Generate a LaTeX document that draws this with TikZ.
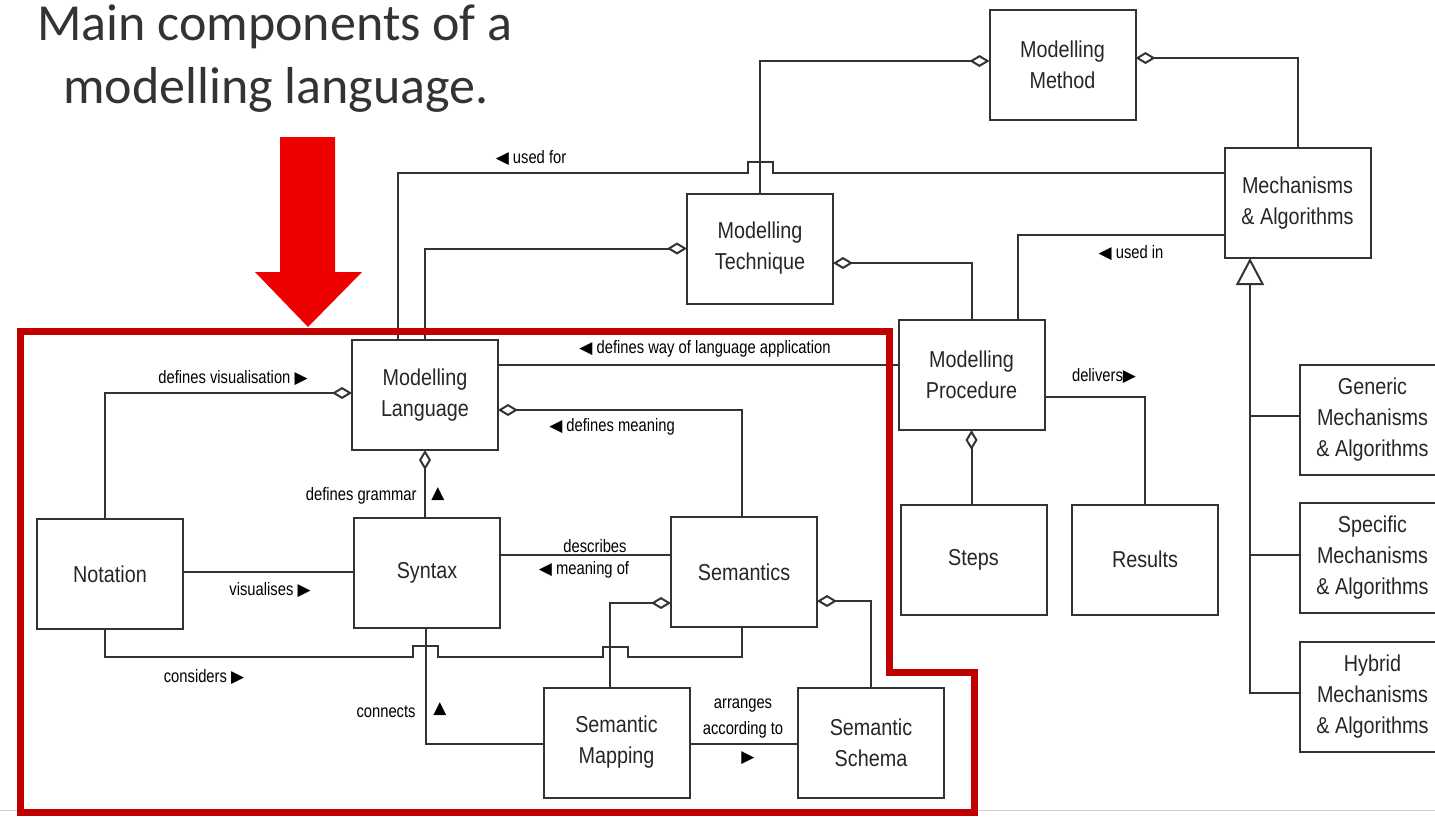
\documentclass[tikz,border=0pt]{standalone}
\usepackage{fontspec}
\usetikzlibrary{arrows.meta}
\newfontfamily\diagfont{Liberation Sans}[FakeStretch=0.86]
\newfontfamily\labelfont{Liberation Sans}[FakeStretch=0.82]
\newfontfamily\titlefont{Carlito}
\newfontfamily\symfont{DejaVu Sans}
\newcommand\tril{{\symfont\fontsize{8.5}{8.5}\selectfont ◀}}
\newcommand\trir{{\symfont\fontsize{8.5}{8.5}\selectfont ▶}}
\newcommand\triu{{\symfont\fontsize{8.5}{8.5}\selectfont ▲}}
\definecolor{ink}{HTML}{333333}
\definecolor{framered}{HTML}{C00000}
\definecolor{arrowred}{HTML}{EE0000}

\begin{document}
\begin{tikzpicture}[x=0.5pt,y=-0.5pt,
  box/.style={draw=ink, line width=1pt, minimum width=73pt, minimum height=55pt,
    inner sep=0pt, outer sep=0pt, align=center,
    font=\diagfont\fontsize{11.5}{15.5}\selectfont, text=black!85},
  conn/.style={draw=ink, line width=1pt},
  agg/.style={conn, arrows={Diamond[open,length=10pt,width=6pt]-}},
  gen/.style={conn, arrows={Triangle[open,length=13.5pt,width=14pt]-}},
  lbl/.style={font=\labelfont\fontsize{9}{11}\selectfont, inner sep=0pt, text=black}
]
\useasboundingbox (0,0) rectangle (1435,816);
\clip (0,0) rectangle (1435,816);

% thin slide edge
\draw[black!18, line width=0.5pt] (0,810) -- (1435,810);

% heading and pointer
\node[font=\titlefont\fontsize{26}{30}\selectfont, anchor=base, text=black!80] (title1) at (275,40) {Main components of a};
\node[font=\titlefont\fontsize{26}{30}\selectfont, anchor=base, text=black!80] (title2) at (276,103) {modelling language.};
\fill[arrowred] (280,137) -- (335,137) -- (335,272) -- (362,272) -- (308,327) -- (255,272) -- (280,272) -- cycle;

% classes
\node[box] (method)   at (1062.5,65)   {Modelling\\Method};
\node[box] (mech)     at (1297.5,203)  {Mechanisms\\\& Algorithms};
\node[box] (tech)     at (760,248.5)   {Modelling\\Technique};
\node[box] (proc)     at (971.5,375)   {Modelling\\Procedure};
\node[box] (ml)       at (425,395)     {Modelling\\Language};
\node[box] (notation) at (110,574)     {Notation};
\node[box] (syntax)   at (427,573)     {Syntax};
\node[box] (sem)      at (744,572)     {Semantics};
\node[box] (smap)     at (616.5,742.5) {Semantic\\Mapping};
\node[box] (sschema)  at (871,742.5)   {Semantic\\Schema};
\node[box] (steps)    at (973.5,559.5) {Steps};
\node[box] (results)  at (1145,559.5)  {Results};
\node[box] (generic)  at (1372.5,419.5) {Generic\\Mechanisms\\\& Algorithms};
\node[box] (specific) at (1372.5,558)   {Specific\\Mechanisms\\\& Algorithms};
\node[box] (hybrid)   at (1372.5,696.5) {Hybrid\\Mechanisms\\\& Algorithms};

% associations and aggregations
\draw[conn] ([xshift=-13.5pt]ml.north) |- (748,173) -- (748,162) -- (773,162) -- (773,173) -- ([yshift=15pt]mech.west);
\draw[agg] (tech.west) -| (ml.north);
\draw[agg] ([yshift=2pt]method.west) -| (tech.north);
\draw[agg] ([yshift=3.5pt]method.east) -| (mech.north);
\draw[agg] ([yshift=-7.25pt]tech.east) -| (proc.north);
\draw[conn] ([yshift=-16pt]mech.west) -| ([xshift=23.25pt]proc.north);
\draw[conn] ([yshift=15pt]ml.east) -- ([yshift=5pt]proc.west);
\draw[agg] ([yshift=-7.5pt]ml.east) -| ([xshift=-1pt]sem.north);
\draw[agg] ([yshift=1pt]ml.west) -| ([xshift=-2.5pt]notation.north);
\draw[agg] (ml.south) -- (ml.south |- syntax.north);
\draw[conn] ([yshift=1pt]notation.east) -- ([yshift=0.5pt]syntax.west);
\draw[conn] ([yshift=9pt]syntax.east) -- ([yshift=8.5pt]sem.west);
\draw[agg] ([yshift=-15.5pt]sem.west) -| ([xshift=-3.25pt]smap.north);
\draw[conn] ([xshift=-2.5pt]notation.south) |- (413,657) -- (413,646) -- (438,646) -- (438,657)
  -- (603,657) -- (603,647) -- (628,647) -- (628,657) -| ([xshift=-1pt]sem.south);
\draw[agg] ([yshift=-14.5pt]sem.east) -| (sschema.north);
\draw[conn] ([xshift=-0.5pt]syntax.south) |- ([yshift=-0.75pt]smap.west);
\draw[conn] ([yshift=-0.75pt]smap.east) -- ([yshift=-0.75pt]sschema.west);
\draw[conn] ([yshift=-11pt]proc.east) -| (results.north);
\draw[agg] (proc.south) -- (proc.south |- steps.north);

% specialisations
\draw[gen] ([xshift=-23.75pt]mech.south) |- ([yshift=2pt]hybrid.west);
\draw[conn] ([yshift=2pt]generic.west) -- ++(-50,0);
\draw[conn] ([yshift=1.5pt]specific.west) -- ++(-50,0);

% role labels
\node[lbl] (l-usedfor) at (531,158) {\tril\ used for};
\node[lbl] (l-usedin)  at (1131,253) {\tril\ used in};
\node[lbl] (l-way)     at (705,349) {\tril\ defines way of language application};
\node[lbl] (l-meaning) at (612,427) {\tril\ defines meaning};
\node[lbl] (l-vis)     at (233,378) {defines visualisation \trir};
\node[lbl, anchor=east] (l-gram) at (417,496) {defines grammar};
\node[lbl] (l-gramtri) at (438,494) {\triu};
\node[lbl] (l-visu)    at (270,590) {visualises \trir};
\node[lbl] (l-desc)    at (595,546) {describes};
\node[lbl] (l-mof)     at (584,570) {\tril\ meaning of};
\node[lbl] (l-cons)    at (204,677) {considers \trir};
\node[lbl, anchor=east] (l-conn) at (416,712) {connects};
\node[lbl] (l-conntri) at (440,709) {\triu};
\node[lbl] (l-arr1)    at (743,706) {arranges};
\node[lbl] (l-arr2)    at (743,730) {according to};
\node[lbl] (l-arr3)    at (748,758) {\trir};
\node[lbl] (l-deliv)   at (1104,376) {delivers\trir};

% highlighted region
\draw[framered, line width=3.5pt, line join=miter]
  (20,331) -- (889,331) -- (889,672) -- (974,672) -- (974,812) -- (20,812) -- cycle;
\end{tikzpicture}
\end{document}
